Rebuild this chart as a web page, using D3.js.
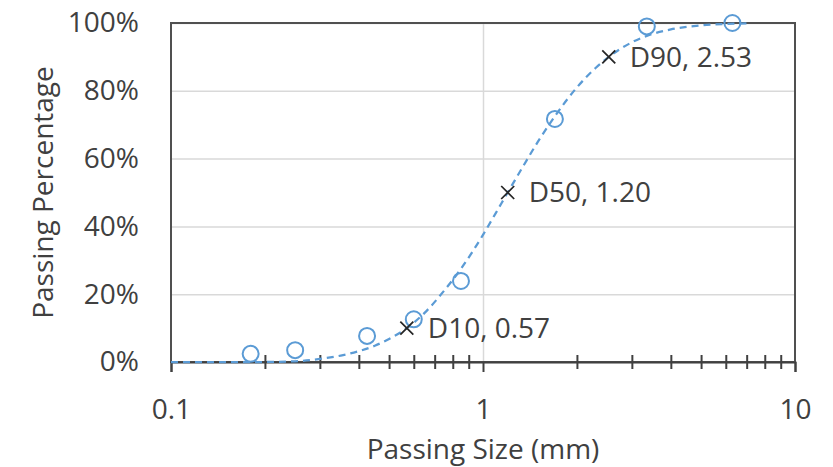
<!DOCTYPE html>
<html>
<head>
<meta charset="utf-8">
<script src="https://cdn.jsdelivr.net/npm/d3@7"></script>
<style>
  body { margin: 0; background: #fff; }
  svg text { font-family: 'Open Sans', sans-serif; fill: #404040; }
</style>
</head>
<body>
<svg id="chart"></svg>
<script>
// sieve results (size in mm, % passing)
const sieveSizes = [0.18, 0.25, 0.425, 0.6, 0.85, 1.7, 3.35, 6.3];
const sievePassing = [2.4, 3.5, 7.7, 12.6, 23.9, 71.7, 99.0, 100];

// fitted grading curve
const curveSizes = [0.1, 0.2, 0.25, 0.3, 0.35, 0.4, 0.45, 0.5, 0.57, 0.65, 0.75, 0.85, 1.0, 1.1, 1.2, 1.35, 1.5, 1.7, 2.0, 2.3, 2.53, 3.0, 3.5, 4.0, 5.0, 6.0, 7.0];
const curvePassing = [0, 0, 0.2, 0.9, 1.9, 3.2, 4.8, 6.8, 10, 14.5, 21, 27.5, 37.5, 44, 50, 58, 65, 72.5, 81, 86.8, 90, 94.3, 96.8, 98.1, 99.3, 99.7, 99.9];

// characteristic sizes
const dNames = ['D10', 'D50', 'D90'];
const dSizes = [0.57, 1.20, 2.53];
const dPassing = [10, 50, 90];

const xMajorTicks = [0.1, 1, 10];
const xMinorTicks = [0.2, 0.3, 0.4, 0.5, 0.6, 0.7, 0.8, 0.9, 2, 3, 4, 5, 6, 7, 8, 9];
const yTicks = [0, 20, 40, 60, 80, 100];

const width = 833;
const height = 467;
const plotLeft = 171;
const plotRight = 795;
const plotTop = 23;
const plotBottom = 362;
const blue = '#5b9bd5';
const fontSize = 28;

const svg = d3.select('#chart')
  .attr('width', width)
  .attr('height', height);

const x = d3.scaleLog()
  .domain([0.1, 10])
  .range([plotLeft, plotRight]);
const y = d3.scaleLinear()
  .domain([0, 100])
  .range([plotBottom, plotTop]);

// gridlines
svg.append('g')
  .attr('transform', `translate(${plotLeft}, 0)`)
  .call(d3.axisLeft(y).tickValues(yTicks).tickSize(-(plotRight - plotLeft)).tickFormat(''))
  .call(g => g.select('.domain').remove())
  .call(g => g.selectAll('line').attr('stroke', '#d9d9d9').attr('stroke-width', 1.5));

svg.append('g')
  .attr('transform', `translate(0, ${plotBottom})`)
  .call(d3.axisTop(x).tickValues([1]).tickSize(plotBottom - plotTop).tickFormat(''))
  .call(g => g.select('.domain').remove())
  .call(g => g.selectAll('line').attr('stroke', '#d9d9d9').attr('stroke-width', 1.5));

// plot area border
svg.append('rect')
  .attr('x', plotLeft)
  .attr('y', plotTop)
  .attr('width', plotRight - plotLeft)
  .attr('height', plotBottom - plotTop)
  .attr('fill', 'none')
  .attr('stroke', '#505050')
  .attr('stroke-width', 2);

// x axis: major ticks outside, minor ticks crossing
svg.append('g')
  .attr('transform', `translate(0, ${plotBottom})`)
  .call(d3.axisBottom(x).tickValues(xMajorTicks).tickSize(10).tickPadding(27).tickFormat(d3.format('~g')))
  .call(g => g.select('.domain').attr('stroke', '#404040').attr('stroke-width', 2))
  .call(g => g.selectAll('line').attr('stroke', '#404040').attr('stroke-width', 2))
  .call(g => g.selectAll('text').attr('font-size', fontSize).attr('font-family', null).attr('fill', null));

svg.append('g')
  .attr('transform', `translate(0, ${plotBottom - 7})`)
  .call(d3.axisBottom(x).tickValues(xMinorTicks).tickSize(14).tickFormat(''))
  .call(g => g.select('.domain').remove())
  .call(g => g.selectAll('line').attr('stroke', '#404040').attr('stroke-width', 2));

// y axis labels
svg.append('g')
  .attr('transform', `translate(${plotLeft}, 0)`)
  .call(d3.axisLeft(y).tickValues(yTicks).tickSize(0).tickPadding(32).tickFormat(d => `${d}%`))
  .call(g => g.select('.domain').remove())
  .call(g => g.selectAll('text').attr('font-size', fontSize).attr('font-family', null).attr('fill', null));

// axis titles
svg.append('text')
  .attr('x', (plotLeft + plotRight) / 2)
  .attr('y', 449)
  .attr('dy', '0.35em')
  .attr('text-anchor', 'middle')
  .attr('font-size', fontSize)
  .text('Passing Size (mm)');

svg.append('text')
  .attr('transform', `translate(43, ${(plotTop + plotBottom) / 2}) rotate(-90)`)
  .attr('dy', '0.35em')
  .attr('text-anchor', 'middle')
  .attr('font-size', fontSize)
  .text('Passing Percentage');

// fitted curve
const curveData = curveSizes.map((s, i) => ({ size: s, pct: curvePassing[i] }));
const line = d3.line()
  .x(d => x(d.size))
  .y(d => y(d.pct))
  .curve(d3.curveMonotoneX);

svg.append('path')
  .datum(curveData)
  .attr('d', line)
  .attr('fill', 'none')
  .attr('stroke', blue)
  .attr('stroke-width', 2.25)
  .attr('stroke-dasharray', '7,5');

// sieve points
const sieveData = sieveSizes.map((s, i) => ({ size: s, pct: sievePassing[i] }));
svg.append('g')
  .selectAll('circle')
  .data(sieveData)
  .enter().append('circle')
  .attr('cx', d => x(d.size))
  .attr('cy', d => y(d.pct))
  .attr('r', 8)
  .attr('fill', 'none')
  .attr('stroke', blue)
  .attr('stroke-width', 2);

// D10 / D50 / D90 markers
const dData = dNames.map((n, i) => ({ name: n, size: dSizes[i], pct: dPassing[i] }));
const marks = svg.append('g')
  .selectAll('g')
  .data(dData)
  .enter().append('g')
  .attr('transform', d => `translate(${x(d.size)}, ${y(d.pct)})`);

marks.append('path')
  .attr('d', 'M-6.5,-6.5L6.5,6.5M-6.5,6.5L6.5,-6.5')
  .attr('stroke', '#262626')
  .attr('stroke-width', 1.75)
  .attr('fill', 'none');

marks.append('text')
  .attr('x', 21)
  .attr('dy', '0.35em')
  .attr('font-size', fontSize)
  .text(d => `${d.name}, ${d.size.toFixed(2)}`);
</script>
</body>
</html>
